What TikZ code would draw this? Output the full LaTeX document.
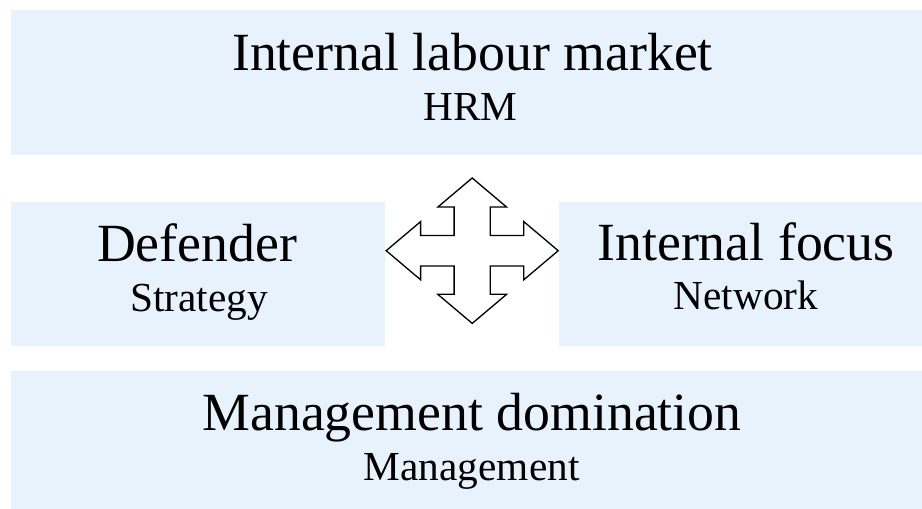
\documentclass[tikz,border=0pt]{standalone}
\usepackage{fontspec}
\setmainfont{Liberation Serif}
\usepackage{tikz}
\usepackage{xcolor}
\definecolor{boxblue}{RGB}{232,242,253}

\begin{document}
\begin{tikzpicture}[x=0.02cm, y=-0.02cm,
		panel/.style={fill=boxblue, draw=none, inner sep=0pt},
		maintext/.style={anchor=base, inner sep=0pt, font=\fontsize{30.6}{36}\selectfont},
		subtext/.style={anchor=base, inner sep=0pt, font=\fontsize{23.5}{28}\selectfont}]
				\useasboundingbox (0, 0) rectangle (922, 509);
				% panels
				\node[panel, minimum width=911*0.02cm, minimum height=145*0.02cm] (hrm) at (466.5, 82.5) {};
				\node[panel, minimum width=374*0.02cm, minimum height=144*0.02cm] (strategy) at (198, 274) {};
				\node[panel, minimum width=363*0.02cm, minimum height=144*0.02cm] (network) at (740.5, 274) {};
				\node[panel, minimum width=911*0.02cm, minimum height=138*0.02cm] (management) at (466.5, 440) {};
				% texts
				\node[maintext] (hrmtitle) at (472.5, 70.7) {Internal labour market};
				\node[subtext] (hrmsub) at (470.5, 120.7) {HRM};
				\node[maintext] (strategytitle) at (197, 261.5) {Defender};
				\node[subtext] (strategysub) at (199, 311.5) {Strategy};
				\node[maintext] (networktitle) at (746, 260.7) {Internal focus};
				\node[subtext] (networksub) at (746, 310) {Network};
				\node[maintext] (managementtitle) at (472, 430) {Management domination};
				\node[subtext] (managementsub) at (471.7, 480) {Management};
				% four-way arrow
				\begin{scope}[shift={(472.2, 250.7)}, xscale=86, yscale=72.7]
					\draw[line width=0.75pt, fill=white, line join=miter]
						(0, 1) -- (0.4, 0.6) -- (0.21, 0.6) -- (0.21, 0.21) -- (0.6, 0.21) -- (0.6, 0.4)
						-- (1, 0) -- (0.6, -0.4) -- (0.6, -0.21) -- (0.21, -0.21) -- (0.21, -0.6) -- (0.4, -0.6)
						-- (0, -1) -- (-0.4, -0.6) -- (-0.21, -0.6) -- (-0.21, -0.21) -- (-0.6, -0.21) -- (-0.6, -0.4)
						-- (-1, 0) -- (-0.6, 0.4) -- (-0.6, 0.21) -- (-0.21, 0.21) -- (-0.21, 0.6) -- (-0.4, 0.6) -- cycle;
				\end{scope}
			\end{tikzpicture}
\end{document}
